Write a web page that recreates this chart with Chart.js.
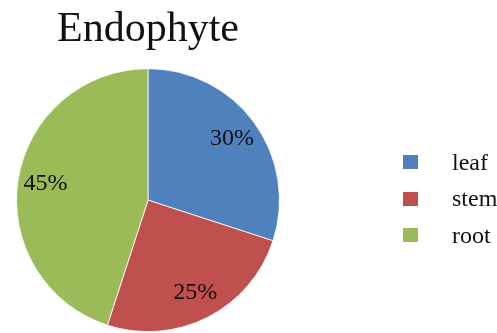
<!DOCTYPE html>
<html>
<head>
<meta charset="utf-8">
<script src="https://cdn.jsdelivr.net/npm/chart.js@4/dist/chart.umd.min.js"></script>
<style>
  html, body { margin: 0; padding: 0; background: #fff; }
  #wrap { position: relative; width: 497px; height: 333px; overflow: hidden; }
  #pie { position: absolute; left: 0; top: 0; }
  #legend { position: absolute; left: 403px; top: 144px; margin: 0; padding: 0; list-style: none;
            font-family: "Liberation Serif", "Times New Roman", serif; font-size: 24px; color: #111; }
  #legend li { display: flex; align-items: center; height: 36.5px; }
  #legend .sw { width: 15px; height: 14px; margin-right: 34px; flex: none; }
</style>
</head>
<body>
<div id="wrap">
  <canvas id="pie" width="497" height="333"></canvas>
  <ul id="legend"></ul>
</div>
<script>
const categories = ['leaf', 'stem', 'root'];
const shares = [30, 25, 45];
const sliceColors = ['#4F81BD', '#C0504D', '#9BBB59'];

const serif = '"Liberation Serif", "Times New Roman", serif';

// Percentage text placed inside each slice, along its middle angle
const sliceLabels = {
  id: 'sliceLabels',
  afterDatasetsDraw(chart) {
    const ctx = chart.ctx;
    const meta = chart.getDatasetMeta(0);
    const values = chart.data.datasets[0].data;
    ctx.save();
    ctx.font = '24px ' + serif;
    ctx.fillStyle = '#111';
    ctx.textAlign = 'center';
    ctx.textBaseline = 'middle';
    meta.data.forEach((arc, i) => {
      const p = arc.getProps(['x', 'y', 'startAngle', 'endAngle', 'outerRadius'], true);
      const mid = (p.startAngle + p.endAngle) / 2;
      const r = p.outerRadius * 0.79;
      ctx.fillText(values[i] + '%', p.x + Math.cos(mid) * r, p.y + Math.sin(mid) * r);
    });
    ctx.restore();
  }
};

// Legend list built from the chart's own legend items
const htmlLegend = {
  id: 'htmlLegend',
  afterUpdate(chart) {
    const ul = document.getElementById('legend');
    ul.innerHTML = '';
    const items = chart.options.plugins.legend.labels.generateLabels(chart);
    items.forEach(item => {
      const li = document.createElement('li');
      const sw = document.createElement('span');
      sw.className = 'sw';
      sw.style.background = item.fillStyle;
      const tx = document.createElement('span');
      tx.textContent = item.text;
      li.appendChild(sw);
      li.appendChild(tx);
      ul.appendChild(li);
    });
  }
};

function drawChart() {
  new Chart(document.getElementById('pie'), {
    type: 'pie',
    data: {
      labels: categories,
      datasets: [{
        data: shares,
        backgroundColor: sliceColors,
        borderColor: '#ffffff',
        borderWidth: 0.8
      }]
    },
    options: {
      responsive: false,
      animation: false,
      layout: { padding: { left: 0, right: 201, top: 0, bottom: 1 } },
      plugins: {
        legend: { display: false },
        tooltip: { enabled: false },
        title: {
          display: true,
          text: 'Endophyte',
          color: '#111',
          font: { family: serif, size: 42, weight: 'normal', lineHeight: 1.15 },
          padding: { top: 6, bottom: 14 }
        }
      }
    },
    plugins: [sliceLabels, htmlLegend]
  });
}

// make sure the serif face is ready before the canvas text is painted
Promise.all([
  document.fonts.load('42px "Liberation Serif"'),
  document.fonts.load('24px "Liberation Serif"')
]).then(drawChart, drawChart);
</script>
</body>
</html>
